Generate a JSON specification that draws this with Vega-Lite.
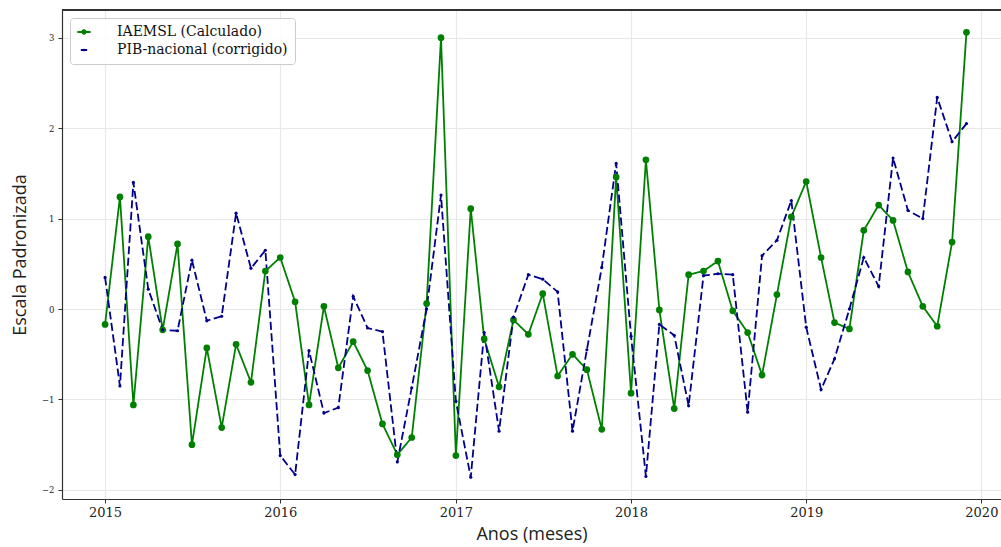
{
  "$schema": "https://vega.github.io/schema/vega-lite/v6.json",
  "autosize": {"type": "none"},
  "padding": {"left": 62, "top": 10, "right": 0, "bottom": 48},
  "width": 939,
  "height": 489,
  "background": "white",
  "config": {
    "view": {"stroke": null},
    "axis": {
      "grid": true,
      "gridColor": "#e8e8e8",
      "gridWidth": 1.2,
      "domainColor": "#333333",
      "domainWidth": 1.2,
      "tickColor": "#333333",
      "tickSize": 4,
      "labelFont": "DejaVu Serif",
      "labelColor": "#222222",
      "titleFont": "Open Sans",
      "titleFontSize": 18,
      "titleFontWeight": "normal",
      "titleColor": "#222222"
    },
    "legend": {
      "title": null,
      "orient": "none",
      "legendX": 8,
      "legendY": 8,
      "padding": 7,
      "symbolSize": 225,
      "symbolStrokeWidth": 2,
      "labelFont": "DejaVu Serif",
      "labelFontSize": 14,
      "labelColor": "#111111",
      "labelOffset": 26,
      "labelLimit": 400,
      "rowPadding": 4,
      "strokeColor": "#cccccc",
      "fillColor": "rgba(255,255,255,0.85)",
      "cornerRadius": 3
    }
  },
  "data": {
    "values": [
      {"d": "2015-01-01", "IAEMSL (Calculado)": -0.17, "PIB-nacional (corrigido)": 0.35},
      {"d": "2015-02-01", "IAEMSL (Calculado)": 1.24, "PIB-nacional (corrigido)": -0.85},
      {"d": "2015-03-01", "IAEMSL (Calculado)": -1.06, "PIB-nacional (corrigido)": 1.40},
      {"d": "2015-04-01", "IAEMSL (Calculado)": 0.80, "PIB-nacional (corrigido)": 0.22},
      {"d": "2015-05-01", "IAEMSL (Calculado)": -0.23, "PIB-nacional (corrigido)": -0.23},
      {"d": "2015-06-01", "IAEMSL (Calculado)": 0.72, "PIB-nacional (corrigido)": -0.24},
      {"d": "2015-07-01", "IAEMSL (Calculado)": -1.50, "PIB-nacional (corrigido)": 0.54},
      {"d": "2015-08-01", "IAEMSL (Calculado)": -0.43, "PIB-nacional (corrigido)": -0.13},
      {"d": "2015-09-01", "IAEMSL (Calculado)": -1.31, "PIB-nacional (corrigido)": -0.08},
      {"d": "2015-10-01", "IAEMSL (Calculado)": -0.39, "PIB-nacional (corrigido)": 1.06},
      {"d": "2015-11-01", "IAEMSL (Calculado)": -0.81, "PIB-nacional (corrigido)": 0.45},
      {"d": "2015-12-01", "IAEMSL (Calculado)": 0.42, "PIB-nacional (corrigido)": 0.65},
      {"d": "2016-01-01", "IAEMSL (Calculado)": 0.57, "PIB-nacional (corrigido)": -1.62},
      {"d": "2016-02-01", "IAEMSL (Calculado)": 0.08, "PIB-nacional (corrigido)": -1.83},
      {"d": "2016-03-01", "IAEMSL (Calculado)": -1.06, "PIB-nacional (corrigido)": -0.46},
      {"d": "2016-04-01", "IAEMSL (Calculado)": 0.03, "PIB-nacional (corrigido)": -1.15},
      {"d": "2016-05-01", "IAEMSL (Calculado)": -0.65, "PIB-nacional (corrigido)": -1.09},
      {"d": "2016-06-01", "IAEMSL (Calculado)": -0.36, "PIB-nacional (corrigido)": 0.14},
      {"d": "2016-07-01", "IAEMSL (Calculado)": -0.68, "PIB-nacional (corrigido)": -0.21},
      {"d": "2016-08-01", "IAEMSL (Calculado)": -1.27, "PIB-nacional (corrigido)": -0.25},
      {"d": "2016-09-01", "IAEMSL (Calculado)": -1.61, "PIB-nacional (corrigido)": -1.69},
      {"d": "2016-10-01", "IAEMSL (Calculado)": -1.42, "PIB-nacional (corrigido)": -0.87},
      {"d": "2016-11-01", "IAEMSL (Calculado)": 0.06, "PIB-nacional (corrigido)": 0.00},
      {"d": "2016-12-01", "IAEMSL (Calculado)": 3.00, "PIB-nacional (corrigido)": 1.26},
      {"d": "2017-01-01", "IAEMSL (Calculado)": -1.62, "PIB-nacional (corrigido)": -1.02},
      {"d": "2017-02-01", "IAEMSL (Calculado)": 1.11, "PIB-nacional (corrigido)": -1.86},
      {"d": "2017-03-01", "IAEMSL (Calculado)": -0.33, "PIB-nacional (corrigido)": -0.26},
      {"d": "2017-04-01", "IAEMSL (Calculado)": -0.86, "PIB-nacional (corrigido)": -1.35},
      {"d": "2017-05-01", "IAEMSL (Calculado)": -0.12, "PIB-nacional (corrigido)": -0.09},
      {"d": "2017-06-01", "IAEMSL (Calculado)": -0.28, "PIB-nacional (corrigido)": 0.38},
      {"d": "2017-07-01", "IAEMSL (Calculado)": 0.17, "PIB-nacional (corrigido)": 0.33},
      {"d": "2017-08-01", "IAEMSL (Calculado)": -0.74, "PIB-nacional (corrigido)": 0.19},
      {"d": "2017-09-01", "IAEMSL (Calculado)": -0.50, "PIB-nacional (corrigido)": -1.35},
      {"d": "2017-10-01", "IAEMSL (Calculado)": -0.67, "PIB-nacional (corrigido)": -0.45},
      {"d": "2017-11-01", "IAEMSL (Calculado)": -1.33, "PIB-nacional (corrigido)": 0.46},
      {"d": "2017-12-01", "IAEMSL (Calculado)": 1.46, "PIB-nacional (corrigido)": 1.61},
      {"d": "2018-01-01", "IAEMSL (Calculado)": -0.93, "PIB-nacional (corrigido)": -0.30},
      {"d": "2018-02-01", "IAEMSL (Calculado)": 1.65, "PIB-nacional (corrigido)": -1.85},
      {"d": "2018-03-01", "IAEMSL (Calculado)": -0.01, "PIB-nacional (corrigido)": -0.17},
      {"d": "2018-04-01", "IAEMSL (Calculado)": -1.10, "PIB-nacional (corrigido)": -0.29},
      {"d": "2018-05-01", "IAEMSL (Calculado)": 0.38, "PIB-nacional (corrigido)": -1.07},
      {"d": "2018-06-01", "IAEMSL (Calculado)": 0.42, "PIB-nacional (corrigido)": 0.37},
      {"d": "2018-07-01", "IAEMSL (Calculado)": 0.53, "PIB-nacional (corrigido)": 0.39},
      {"d": "2018-08-01", "IAEMSL (Calculado)": -0.02, "PIB-nacional (corrigido)": 0.38},
      {"d": "2018-09-01", "IAEMSL (Calculado)": -0.26, "PIB-nacional (corrigido)": -1.14},
      {"d": "2018-10-01", "IAEMSL (Calculado)": -0.73, "PIB-nacional (corrigido)": 0.59},
      {"d": "2018-11-01", "IAEMSL (Calculado)": 0.16, "PIB-nacional (corrigido)": 0.76},
      {"d": "2018-12-01", "IAEMSL (Calculado)": 1.02, "PIB-nacional (corrigido)": 1.20},
      {"d": "2019-01-01", "IAEMSL (Calculado)": 1.41, "PIB-nacional (corrigido)": -0.20},
      {"d": "2019-02-01", "IAEMSL (Calculado)": 0.57, "PIB-nacional (corrigido)": -0.89},
      {"d": "2019-03-01", "IAEMSL (Calculado)": -0.15, "PIB-nacional (corrigido)": -0.55},
      {"d": "2019-04-01", "IAEMSL (Calculado)": -0.22, "PIB-nacional (corrigido)": 0.00},
      {"d": "2019-05-01", "IAEMSL (Calculado)": 0.87, "PIB-nacional (corrigido)": 0.57},
      {"d": "2019-06-01", "IAEMSL (Calculado)": 1.15, "PIB-nacional (corrigido)": 0.25},
      {"d": "2019-07-01", "IAEMSL (Calculado)": 0.98, "PIB-nacional (corrigido)": 1.67},
      {"d": "2019-08-01", "IAEMSL (Calculado)": 0.41, "PIB-nacional (corrigido)": 1.09},
      {"d": "2019-09-01", "IAEMSL (Calculado)": 0.03, "PIB-nacional (corrigido)": 1.00},
      {"d": "2019-10-01", "IAEMSL (Calculado)": -0.19, "PIB-nacional (corrigido)": 2.34},
      {"d": "2019-11-01", "IAEMSL (Calculado)": 0.74, "PIB-nacional (corrigido)": 1.85},
      {"d": "2019-12-01", "IAEMSL (Calculado)": 3.06, "PIB-nacional (corrigido)": 2.05}
    ]
  },
  "transform": [
    {"fold": ["IAEMSL (Calculado)", "PIB-nacional (corrigido)"], "as": ["serie", "valor"]}
  ],
  "layer": [
    {
      "mark": {"type": "line", "strokeWidth": 1.8},
      "encoding": {
        "x": {
          "field": "d",
          "type": "temporal",
          "title": "Anos (meses)",
          "scale": {
            "type": "utc",
            "domain": [
              {"year": 2014, "month": 10, "date": 3, "hours": 6, "utc": true},
              {"year": 2020, "month": 2, "date": 10, "hours": 22, "utc": true}
            ]
          },
          "axis": {
            "values": [
              {"year": 2015, "month": 1, "date": 1, "utc": true},
              {"year": 2016, "month": 1, "date": 1, "utc": true},
              {"year": 2017, "month": 1, "date": 1, "utc": true},
              {"year": 2018, "month": 1, "date": 1, "utc": true},
              {"year": 2019, "month": 1, "date": 1, "utc": true},
              {"year": 2020, "month": 1, "date": 1, "utc": true}
            ],
            "format": "%Y",
            "labelFontSize": 13,
            "labelPadding": 3,
            "titlePadding": 6
          }
        },
        "y": {
          "field": "valor",
          "type": "quantitative",
          "title": "Escala Padronizada",
          "scale": {"domain": [-2.1, 3.306], "nice": false, "zero": false},
          "axis": {
            "values": [-2, -1, 0, 1, 2, 3],
            "format": "d",
            "labelFontSize": 8.5,
            "labelPadding": 4,
            "titlePadding": 12
          }
        },
        "color": {
          "field": "serie",
          "type": "nominal",
          "scale": {"domain": ["IAEMSL (Calculado)", "PIB-nacional (corrigido)"], "range": ["green", "darkblue"]},
          "legend": {
            "encode": {
              "symbols": {
                "update": {
                  "size": {"value": 182},
                  "shape": {"signal": "datum.value === 'IAEMSL (Calculado)' ? 'M-2,0L2,0M-0.5,0A0.5,0.5,0,1,0,0.5,0A0.5,0.5,0,1,0,-0.5,0Z' : 'M-2,0L2,0M-0.2,0A0.2,0.2,0,1,0,0.2,0A0.2,0.2,0,1,0,-0.2,0Z'"},
                  "fill": {"signal": "datum.value === 'IAEMSL (Calculado)' ? 'green' : 'darkblue'"}
                }
              }
            }
          }
        },
        "strokeDash": {
          "field": "serie",
          "type": "nominal",
          "scale": {"domain": ["IAEMSL (Calculado)", "PIB-nacional (corrigido)"], "range": [[1, 0], [8, 3.5]]},
          "legend": {
            "encode": {
              "symbols": {
                "update": {
                  "size": {"value": 182},
                  "shape": {"signal": "datum.value === 'IAEMSL (Calculado)' ? 'M-2,0L2,0M-0.5,0A0.5,0.5,0,1,0,0.5,0A0.5,0.5,0,1,0,-0.5,0Z' : 'M-2,0L2,0M-0.2,0A0.2,0.2,0,1,0,0.2,0A0.2,0.2,0,1,0,-0.2,0Z'"},
                  "fill": {"signal": "datum.value === 'IAEMSL (Calculado)' ? 'green' : 'darkblue'"}
                }
              }
            }
          }
        }
      }
    },
    {
      "mark": {"type": "point", "filled": true, "opacity": 1},
      "encoding": {
        "x": {"field": "d", "type": "temporal"},
        "y": {"field": "valor", "type": "quantitative"},
        "color": {"field": "serie", "type": "nominal", "legend": null},
        "size": {
          "field": "serie",
          "type": "nominal",
          "scale": {"domain": ["IAEMSL (Calculado)", "PIB-nacional (corrigido)"], "range": [45, 10]},
          "legend": null
        }
      }
    },
    {
      "mark": {"type": "rule", "color": "#333333", "strokeWidth": 1.2},
      "encoding": {"y": {"datum": 3.306, "type": "quantitative"}}
    }
  ]
}
